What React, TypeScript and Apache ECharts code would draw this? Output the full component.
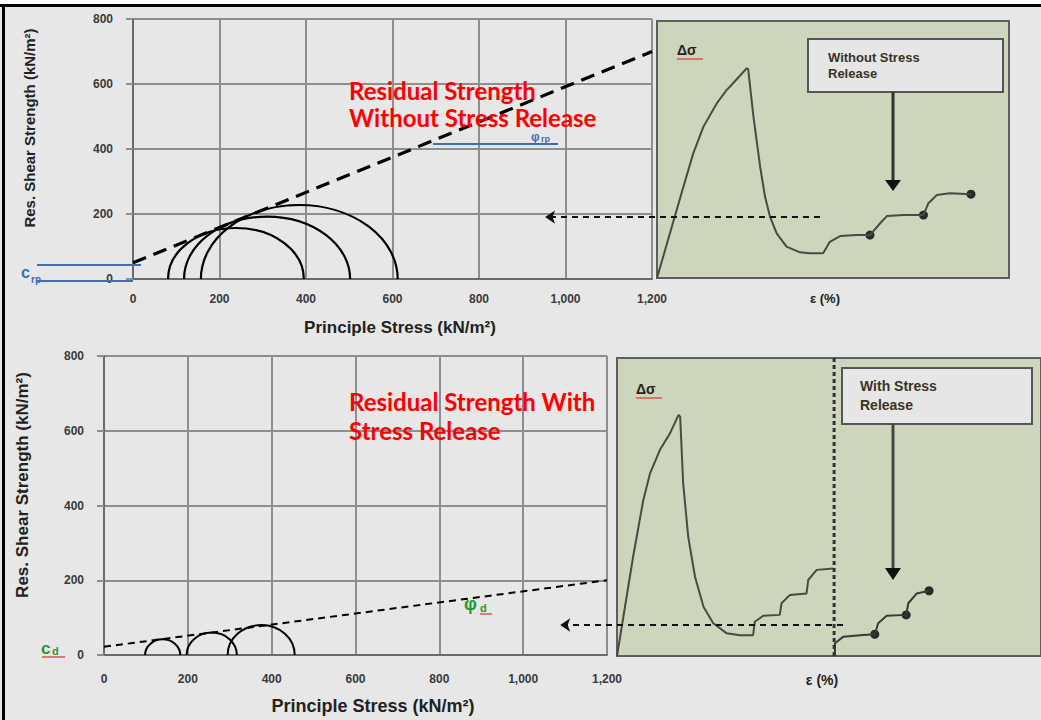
import React, { useEffect, useRef } from "react";
import * as echarts from "echarts";

// ---- data ----
// Mohr circles as [sigma3, sigma1] (kN/m²)
const topCircles = [[81, 395], [118, 502], [157, 612]];
const bottomCircles = [[98, 182], [197, 317], [295, 455]];
// failure envelopes [stress, shear]
const topEnvelope = [[0, 50], [1200, 700]];
const bottomEnvelope = [[0, 22], [1200, 200]];
// stress-strain sketches (panel units 0..100)
const topCurve = [[0, 0], [3.7, 17.5], [7.5, 35.5], [10.3, 48.5], [13.2, 58.9], [17, 68], [19.8, 73.2], [20.7, 74.4], [25.5, 81.6], [25.9, 81.3], [27.4, 62.8], [29.3, 43.3], [30.7, 31.6], [32.1, 23.9], [34, 17.4], [36.8, 12.2], [40.6, 10], [43.5, 9.6], [47.2, 9.6], [49.1, 14.1], [52, 16.3], [56.7, 16.7], [60.5, 16.7], [63.4, 21.3], [65.3, 24.1], [70, 24.5], [75.7, 24.5], [77.1, 29.1], [79.5, 32.3], [83.2, 33], [89.2, 32.6]];
const topDots = [[60.5, 16.7], [75.7, 24.5], [89.2, 32.6]];
const bottomCurve = [[0, 0], [3.8, 33.3], [6.2, 52.3], [7.8, 61.3], [10.1, 69.1], [12.5, 74.7], [14.5, 80.9], [14.9, 80.3], [15.6, 58], [16.8, 40], [18.4, 26.6], [20.4, 16.5], [22.7, 11], [25.9, 7.6], [29, 7], [32.1, 7], [32.5, 11.5], [34.5, 13.5], [38.4, 13.8], [38.8, 17.7], [40.8, 20.5], [44.7, 21], [45.1, 25.5], [47.1, 28.9], [51, 29.4]];
const bottomRelease = [[51.4, 0], [51.4, 4.3], [53.4, 6.5], [57.3, 7], [60.8, 7.3], [61.6, 11], [63.6, 13.5], [68.2, 13.8], [68.7, 17.7], [70.7, 21], [73.6, 21.9]];
const bottomDots = [[60.8, 7.3], [68.2, 13.8], [73.6, 21.9]];
const releaseLine = [[51.2, 0], [51.2, 100]];
const topResidualArrow = [[46.3, 23.7], [-31.8, 23.7]];
const bottomResidualArrow = [[53.3, 10.4], [-13.4, 10.4]];

const FONT = "Liberation Sans, Arial, sans-serif";
const GRID_C = "#8e8e8e";

function circleRender(width: number) {
  return (params: any, api: any) => {
    const s3 = api.value(0);
    const s1 = api.value(1);
    const l = api.coord([s3, 0]);
    const r = api.coord([s1, 0]);
    const t = api.coord([(s1 + s3) / 2, (s1 - s3) / 2]);
    const rx = (r[0] - l[0]) / 2;
    const ry = l[1] - t[1];
    return {
      type: "path",
      shape: { pathData: `M${l[0]} ${l[1]} A${rx} ${ry} 0 0 1 ${r[0]} ${r[1]}` },
      style: { fill: "none", stroke: "#000", lineWidth: width },
    };
  };
}

function mohrX(gridIndex: number, margin: number) {
  return {
    gridIndex, type: "value", min: 0, max: 1200, interval: 200,
    axisLine: { show: true, onZero: false, lineStyle: { color: "#6a6a6a", width: 2 } },
    axisTick: { show: false },
    splitLine: { show: true, lineStyle: { color: GRID_C, width: 2 } },
    axisLabel: { margin, fontSize: 12, fontWeight: "bold", color: "#3a3a3a", fontFamily: FONT,
      formatter: (v: number) => v.toLocaleString("en-US") },
  };
}
function mohrY(gridIndex: number) {
  return {
    gridIndex, type: "value", min: 0, max: 800, interval: 200,
    axisLine: { show: true, onZero: false, lineStyle: { color: "#6a6a6a", width: 2 } },
    axisTick: { show: true, length: 7, lineStyle: { color: GRID_C, width: 2 } },
    splitLine: { show: true, lineStyle: { color: GRID_C, width: 2 } },
    axisLabel: { margin: 20, fontSize: 12, fontWeight: "bold", color: "#3a3a3a", fontFamily: FONT },
  };
}
function panelAxis(gridIndex: number) {
  return { gridIndex, type: "value", min: 0, max: 100, show: false, splitLine: { show: false } };
}

function txt(x: number, y: number, text: string, size: number, fill: string, extra: any = {}) {
  return {
    type: "text", x, y, z: 100,
    style: { text, fontSize: size, fill, fontFamily: FONT, fontWeight: "bold", verticalAlign: "middle", ...extra },
  };
}
function ln(x1: number, y1: number, x2: number, y2: number, stroke: string, w: number) {
  return { type: "line", z: 100, shape: { x1, y1, x2, y2 }, style: { stroke, lineWidth: w } };
}

const BLUE = "#3e6fb6";
const GREEN = "#1e9a2e";
const RED = "#ff0000";
const BOXTXT = "#3a3226";
const HEAD = "Lato, sans-serif";

export default function App() {
  const ref = useRef<HTMLDivElement>(null);
  useEffect(() => {
    const chart = echarts.init(ref.current!, null, { renderer: "svg" });
    const option: any = {
      animation: false,
      backgroundColor: "#e7e7e7",
      grid: [
        { left: 133, top: 19, width: 519, height: 260 },
        { left: 657, top: 21, width: 352, height: 257, show: true, backgroundColor: "#cdd5bd", borderColor: "#5e5e5e", borderWidth: 2 },
        { left: 104, top: 356, width: 503, height: 299 },
        { left: 617, top: 358, width: 426, height: 298, show: true, backgroundColor: "#cdd5bd", borderColor: "#5e5e5e", borderWidth: 2 },
      ],
      xAxis: [mohrX(0, 14), panelAxis(1), mohrX(2, 18), panelAxis(3)],
      yAxis: [mohrY(0), panelAxis(1), mohrY(2), panelAxis(3)],
      series: [
        { type: "custom", xAxisIndex: 0, yAxisIndex: 0, data: topCircles, renderItem: circleRender(2.2), encode: { x: 0, y: 1 } },
        { type: "custom", xAxisIndex: 2, yAxisIndex: 2, data: bottomCircles, renderItem: circleRender(2), encode: { x: 0, y: 1 } },
        { type: "line", xAxisIndex: 0, yAxisIndex: 0, data: topEnvelope, symbol: "none",
          lineStyle: { color: "#000", width: 3.2, type: [14, 8] } },
        { type: "line", xAxisIndex: 2, yAxisIndex: 2, data: bottomEnvelope, symbol: "none",
          lineStyle: { color: "#000", width: 2, type: [7, 5] } },
        { type: "line", xAxisIndex: 1, yAxisIndex: 1, data: topCurve, symbol: "none",
          lineStyle: { color: "#4a4a42", width: 2 } },
        { type: "scatter", xAxisIndex: 1, yAxisIndex: 1, data: topDots, symbolSize: 9, itemStyle: { color: "#000" } },
        { type: "line", xAxisIndex: 3, yAxisIndex: 3, data: bottomCurve, symbol: "none",
          lineStyle: { color: "#4a4a42", width: 2 } },
        { type: "line", xAxisIndex: 3, yAxisIndex: 3, data: bottomRelease, symbol: "none",
          lineStyle: { color: "#3a3a32", width: 2 } },
        { type: "scatter", xAxisIndex: 3, yAxisIndex: 3, data: bottomDots, symbolSize: 9, itemStyle: { color: "#000" } },
        { type: "line", xAxisIndex: 3, yAxisIndex: 3, data: releaseLine, symbol: "none",
          lineStyle: { color: "#333", width: 3, type: [4, 3] } },
        { type: "lines", coordinateSystem: "cartesian2d", xAxisIndex: 1, yAxisIndex: 1, clip: false, z: 5,
          symbol: ["none", "arrow"], symbolSize: 10,
          lineStyle: { color: "#111", width: 1.8, type: [6, 5], opacity: 1 },
          data: [{ coords: topResidualArrow }] },
        { type: "lines", coordinateSystem: "cartesian2d", xAxisIndex: 3, yAxisIndex: 3, clip: false, z: 5,
          symbol: ["none", "arrow"], symbolSize: 10,
          lineStyle: { color: "#111", width: 1.8, type: [6, 5], opacity: 1 },
          data: [{ coords: bottomResidualArrow }] },
      ],
      graphic: [
        // frame
        { type: "rect", z: 200, shape: { x: 0, y: 0, width: 1041, height: 4 }, style: { fill: "#ffffff" } },
        { type: "rect", z: 200, shape: { x: 0, y: 4, width: 1041, height: 3 }, style: { fill: "#000" } },
        { type: "rect", z: 200, shape: { x: 2, y: 4, width: 3, height: 716 }, style: { fill: "#000" } },
        // axis titles
        { ...txt(29, 128, "Res. Shear Strength (kN/m²)", 15, "#222", { align: "center" }), rotation: Math.PI / 2 },
        { ...txt(22, 485, "Res. Shear Strength (kN/m²)", 17, "#222", { align: "center" }), rotation: Math.PI / 2 },
        txt(400, 327, "Principle Stress (kN/m²)", 17, "#222", { align: "center" }),
        txt(373, 706, "Principle Stress (kN/m²)", 18, "#222", { align: "center" }),
        txt(825, 298, "ε (%)", 13, "#222", { align: "center" }),
        txt(822, 680, "ε (%)", 14, "#222", { align: "center" }),
        // red headings
        txt(349, 90, "Residual Strength", 24, RED, { fontFamily: HEAD }),
        txt(349, 117, "Without Stress Release", 24, RED, { fontFamily: HEAD }),
        txt(349, 401, "Residual Strength With", 24, RED, { fontFamily: HEAD }),
        txt(349, 430, "Stress Release", 24, RED, { fontFamily: HEAD }),
        // blue annotations top
        ln(37, 265, 141, 265, BLUE, 2),
        ln(37, 281, 133, 281, BLUE, 2),
        txt(21, 272, "c", 16, BLUE),
        txt(31, 279, "rp", 10, BLUE),
        ln(433, 144, 558, 144, BLUE, 2),
        txt(531, 137, "φ", 12, BLUE),
        txt(541, 139, "rp", 9, BLUE),
        // green annotations bottom
        txt(41, 648, "c", 17, GREEN),
        txt(52, 651, "d", 11, GREEN),
        ln(42, 657, 65, 657, "#e05050", 1.5),
        txt(464, 604, "φ", 18, GREEN),
        txt(480, 608, "d", 11, GREEN),
        ln(480, 614, 492, 614, "#e05050", 1.5),
        // delta sigma
        txt(677, 50, "Δσ", 14, "#2a2218"),
        ln(677, 59, 703, 59, "#e05050", 1.5),
        txt(636, 389, "Δσ", 14, "#2a2218"),
        ln(636, 398, 662, 398, "#e05050", 1.5),
        // callout boxes
        { type: "rect", z: 100, shape: { x: 808, y: 39, width: 195, height: 53 }, style: { fill: "#e6e6e6", stroke: "#555", lineWidth: 2 } },
        txt(828, 57, "Without Stress", 13, BOXTXT),
        txt(828, 73, "Release", 13, BOXTXT),
        ln(893, 92, 893, 182, "#333", 3),
        { type: "polygon", z: 100, shape: { points: [[885, 180], [901, 180], [893, 191]] }, style: { fill: "#111" } },
        { type: "rect", z: 100, shape: { x: 842, y: 368, width: 190, height: 56 }, style: { fill: "#e6e6e6", stroke: "#555", lineWidth: 2 } },
        txt(860, 386, "With Stress", 14, BOXTXT),
        txt(860, 405, "Release", 14, BOXTXT),
        ln(893, 424, 893, 570, "#444", 3),
        { type: "polygon", z: 100, shape: { points: [[885, 568], [901, 568], [893, 580]] }, style: { fill: "#111" } },
      ],
    };
    chart.setOption(option);
    return () => chart.dispose();
  }, []);
  return <div ref={ref} style={{ position: "absolute", left: 0, top: 0, width: 1041, height: 720 }} />;
}
